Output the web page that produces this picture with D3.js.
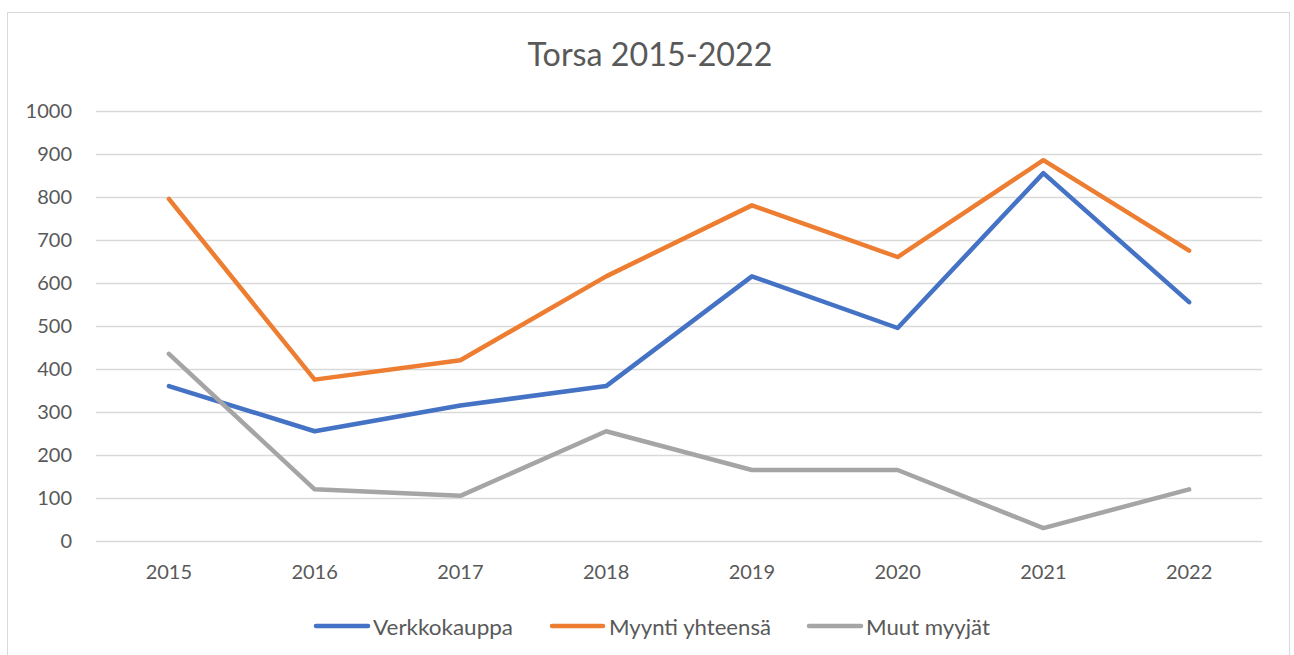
<!DOCTYPE html>
<html>
<head>
<meta charset="utf-8">
<script src="https://cdn.jsdelivr.net/npm/d3@7"></script>
<style>
  html, body { margin: 0; padding: 0; background: #fff; }
  svg { display: block; }
  text { font-family: Lato, "Open Sans", sans-serif; fill: #595959; }
</style>
</head>
<body>
<svg id="chart" width="1294" height="655"></svg>
<script>
const title = "Torsa 2015-2022";
const years = ["2015", "2016", "2017", "2018", "2019", "2020", "2021", "2022"];
const verkkokauppa = [360, 255, 315, 360, 615, 495, 855, 555];
const myyntiYhteensa = [795, 375, 420, 615, 780, 660, 885, 675];
const muutMyyjat = [435, 120, 105, 255, 165, 165, 30, 120];
const yTicks = [0, 100, 200, 300, 400, 500, 600, 700, 800, 900, 1000];
const seriesNames = ["Verkkokauppa", "Myynti yhteensä", "Muut myyjät"];
const seriesColors = ["#4472C4", "#ED7D31", "#A5A5A5"];

const series = [
  { name: seriesNames[0], values: verkkokauppa, color: seriesColors[0] },
  { name: seriesNames[1], values: myyntiYhteensa, color: seriesColors[1] },
  { name: seriesNames[2], values: muutMyyjat, color: seriesColors[2] }
];

const svg = d3.select("#chart");

// outer chart border
svg.append("rect")
  .attr("x", 7.5).attr("y", 12.5)
  .attr("width", 1282).attr("height", 660)
  .attr("fill", "#fff").attr("stroke", "#D9D9D9").attr("stroke-width", 1);

const plot = { left: 96, right: 1262, top: 110.7, bottom: 541 };

const x = d3.scaleBand().domain(years).range([plot.left, plot.right]);
const y = d3.scaleLinear().domain([0, 1000]).range([plot.bottom, plot.top]);

// title
svg.append("text")
  .attr("x", 650).attr("y", 66)
  .attr("text-anchor", "middle")
  .attr("font-size", 32)
  .attr("textLength", 245)
  .attr("lengthAdjust", "spacingAndGlyphs")
  .text(title);

// gridlines
svg.append("g").selectAll("line")
  .data(yTicks)
  .join("line")
  .attr("x1", plot.left).attr("x2", plot.right)
  .attr("y1", d => Math.round(y(d)) + 0.5).attr("y2", d => Math.round(y(d)) + 0.5)
  .attr("stroke", "#D9D9D9").attr("stroke-width", 1.5);

// y axis labels
const yAxis = d3.axisLeft(y).tickValues(yTicks).tickFormat(d3.format("d")).tickSize(0).tickPadding(0);
const yg = svg.append("g").attr("transform", `translate(72,0)`).call(yAxis);
yg.select(".domain").remove();
yg.selectAll("text")
  .attr("font-size", 20)
  .attr("fill", "#595959")
  .style("font-family", "Lato, 'Open Sans', sans-serif");

// x axis labels
const xAxis = d3.axisBottom(x).tickSize(0).tickPadding(0);
const xg = svg.append("g").attr("transform", `translate(0,${plot.bottom + 24})`).call(xAxis);
xg.select(".domain").remove();
xg.selectAll("text")
  .attr("font-size", 20)
  .attr("fill", "#595959")
  .style("font-family", "Lato, 'Open Sans', sans-serif");

// lines
const line = d3.line()
  .x((d, i) => x(years[i]) + x.bandwidth() / 2)
  .y(d => y(d));

svg.append("g").selectAll("path")
  .data(series)
  .join("path")
  .attr("d", d => line(d.values))
  .attr("fill", "none")
  .attr("stroke", d => d.color)
  .attr("stroke-width", 4.5)
  .attr("stroke-linejoin", "round")
  .attr("stroke-linecap", "round");

// legend
const legendItems = [
  { lx1: 316, lx2: 368, tx: 373, tw: 140 },
  { lx1: 552, lx2: 603, tx: 609, tw: 162 },
  { lx1: 809, lx2: 861, tx: 866, tw: 124 }
];
const lg = svg.append("g");
series.forEach((s, i) => {
  const it = legendItems[i];
  lg.append("line")
    .attr("x1", it.lx1).attr("x2", it.lx2)
    .attr("y1", 626).attr("y2", 626)
    .attr("stroke", s.color).attr("stroke-width", 4.5)
    .attr("stroke-linecap", "round");
  lg.append("text")
    .attr("x", it.tx).attr("y", 627)
    .attr("dy", "0.35em")
    .attr("font-size", 22)
    .attr("textLength", it.tw)
    .attr("lengthAdjust", "spacingAndGlyphs")
    .text(s.name);
});
</script>
</body>
</html>
